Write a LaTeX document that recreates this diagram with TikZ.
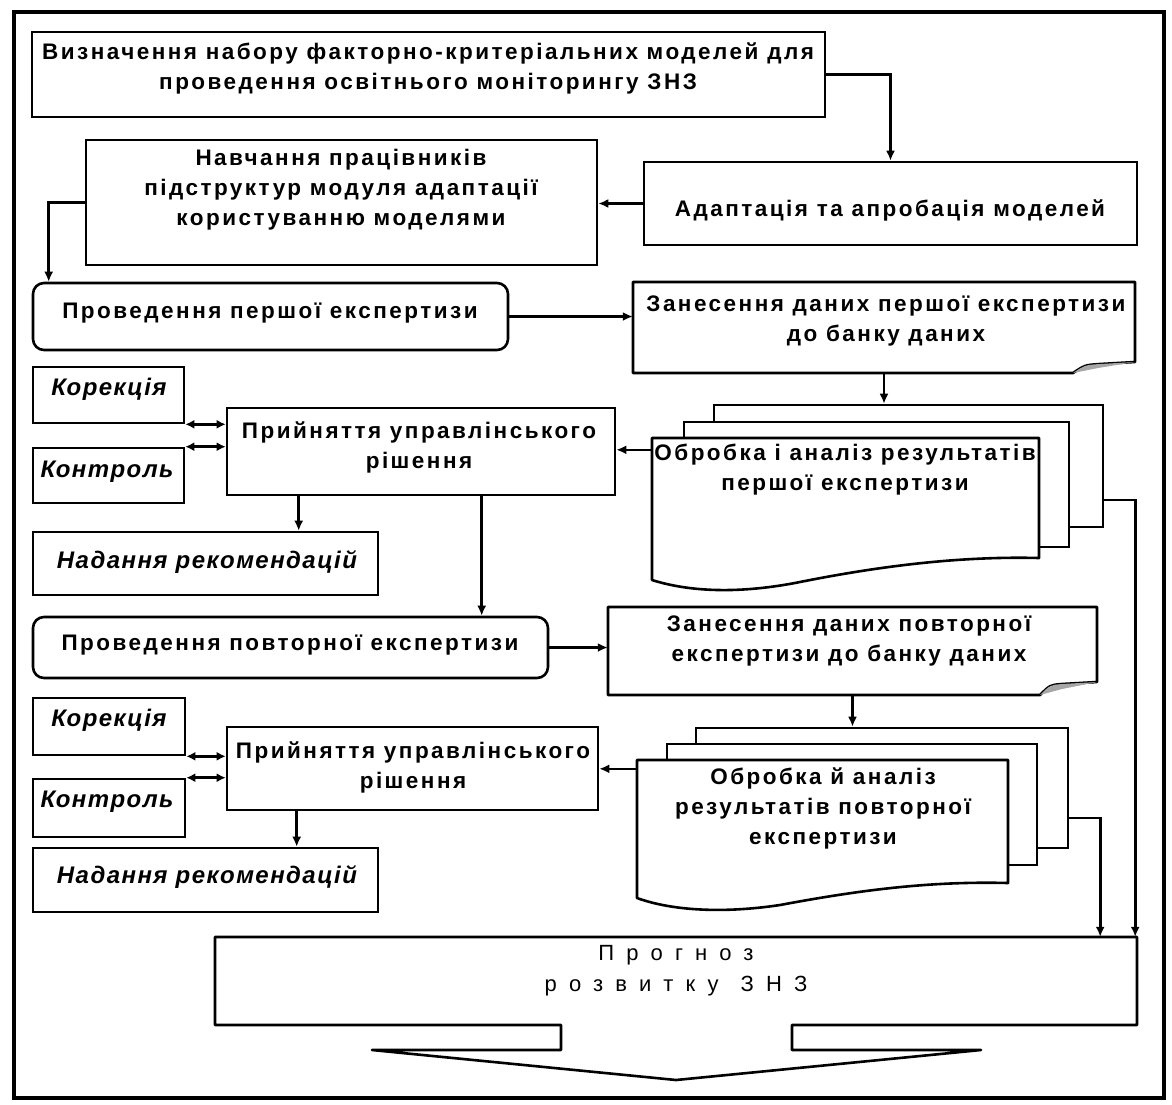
\documentclass[tikz,border=0pt]{standalone}
\usepackage{fontspec}
\setmainfont{Liberation Sans}
\newfontfamily\schemefont[LetterSpace=11]{Liberation Sans}
\newfontfamily\markfont[LetterSpace=6]{Liberation Sans}
\newfontfamily\progfont[LetterSpace=55]{Liberation Sans}
\usetikzlibrary{shapes,arrows.meta,positioning,calc}

\begin{document}
\begin{tikzpicture}[x=1pt,y=-1pt,
  box/.style={draw,line width=2.6pt,fill=white,inner sep=0pt},
  rbox/.style={box,rounded corners=11pt},
  anchorbox/.style={inner sep=0pt},
  doc/.style={draw,line width=2.6pt,fill=white,line join=round},
  txt/.style={font=\schemefont\bfseries\fontsize{22.5}{30}\selectfont,align=center,inner sep=0pt},
  itxt/.style={font=\markfont\bfseries\itshape\fontsize{24}{28}\selectfont,inner sep=0pt},
  progtxt/.style={font=\progfont\fontsize{22}{31}\selectfont,align=center,inner sep=0pt},
  link/.style={line width=2.6pt,-{Latex[length=10pt,width=9pt]}},
  dlink/.style={line width=2.6pt,{Latex[length=9pt,width=9pt]}-{Latex[length=9pt,width=9pt]}}
]
\useasboundingbox (0,0) rectangle (1172,1104);

% outer frame
\draw[line width=4.5pt] (14,12) rectangle (1164,1098);

% upper part
\node[box,minimum width=793,minimum height=85] (vyz) at (428.5,74.5) {};
\node[box,minimum width=511,minimum height=125] (navch) at (341.5,202.5) {};
\node[box,minimum width=493,minimum height=83] (adapt) at (890.5,203.5) {};
\node[rbox,minimum width=475,minimum height=67] (prov1) at (270.5,316.5) {};

% first expertise: data entry
\node[anchorbox,minimum width=502,minimum height=91] (zan1) at (884,327.5) {};
\draw[doc] (633,282) -- (1135,282) -- (1135,362) -- (1100,364) .. controls (1085,365) .. (1073,373) -- (633,373) -- cycle;
\fill[gray!70] (1073,373) .. controls (1085,365) .. (1100,364) -- (1135,362) -- (1098,368) -- cycle;

% first expertise: processing (stack)
\node[box,minimum width=389,minimum height=122] (back1) at (908.5,466) {};
\node[box,minimum width=385,minimum height=125] (mid1) at (876.5,484.5) {};
\node[anchorbox,minimum width=387,minimum height=142] (front1) at (845.5,509) {};
\draw[doc] (652,438) -- (1039,438) -- (1039,558) .. controls (960,556) and (880,566) .. (800,582) .. controls (740,594) and (690,592) .. (652,580) -- cycle;

\node[box,minimum width=151,minimum height=56] (kor1) at (108.5,395) {};
\node[box,minimum width=151,minimum height=55] (kon1) at (108.5,475.5) {};
\node[box,minimum width=388,minimum height=87] (prij1) at (421,451.5) {};
\node[box,minimum width=345,minimum height=63] (nad1) at (205.5,563.5) {};

% second expertise
\node[rbox,minimum width=515,minimum height=61] (prov2) at (290.5,647.5) {};
\node[anchorbox,minimum width=489,minimum height=88] (zan2) at (852.5,651) {};
\draw[doc] (608,607) -- (1097,607) -- (1097,682) -- (1062,684) .. controls (1050,685) .. (1040,695) -- (608,695) -- cycle;
\fill[gray!70] (1040,695) .. controls (1050,685) .. (1062,684) -- (1097,682) -- (1062,689) -- cycle;

\node[box,minimum width=372,minimum height=120] (back2) at (882,788) {};
\node[box,minimum width=370,minimum height=121] (mid2) at (852,804.5) {};
\node[anchorbox,minimum width=371,minimum height=144] (front2) at (822.5,832) {};
\draw[doc] (637,760) -- (1008,760) -- (1008,883) .. controls (930,881) and (860,890) .. (780,905) .. controls (720,914) and (670,910) .. (637,898) -- cycle;

\node[box,minimum width=152,minimum height=57] (kor2) at (109,726.5) {};
\node[box,minimum width=152,minimum height=58] (kon2) at (109,808) {};
\node[box,minimum width=371,minimum height=83] (prij2) at (412.5,768.5) {};
\node[box,minimum width=345,minimum height=64] (nad2) at (205.5,880) {};

% forecast with outgoing arrow
\node[anchorbox,minimum width=922,minimum height=88] (prog) at (676,981) {};
\draw[doc] (215,937) -- (1137,937) -- (1137,1025) -- (792,1025) -- (792,1050) -- (981,1050) -- (676,1080) -- (372,1050) -- (561,1050) -- (561,1025) -- (215,1025) -- cycle;

% Labels
\node[txt] (vyzT) at (428,68) {Визначення набору факторно-критеріальних моделей для\\проведення освітнього моніторингу ЗНЗ};
\node[txt] (navchT) at (341,190) {Навчання працівників\\підструктур модуля адаптації\\користуванню моделями};
\node[txt] (adaptT) at (890,210) {Адаптація та апробація моделей};
\node[txt] (prov1T) at (270,313) {Проведення першої експертизи};
\node[txt] (zan1T) at (886,321) {Занесення даних першої експертизи\\до банку даних};
\node[itxt] (kor1T) at (109,389) {Корекція};
\node[itxt] (kon1T) at (107,472) {Контроль};
\node[txt] (prij1T) at (419,447) {Прийняття управлінського\\рішення};
\node[itxt] (nad1T) at (207,562) {Надання рекомендацій};
\node[txt] (front1T) at (845,470) {Обробка і аналіз результатів\\першої експертизи};
\node[txt] (prov2T) at (290,645) {Проведення повторної експертизи};
\node[txt] (zan2T) at (849,641) {Занесення даних повторної\\експертизи до банку даних};
\node[itxt] (kor2T) at (109,720) {Корекція};
\node[itxt] (kon2T) at (107,802) {Контроль};
\node[txt] (prij2T) at (413,767) {Прийняття управлінського\\рішення};
\node[itxt] (nad2T) at (207,877) {Надання рекомендацій};
\node[txt] (front2T) at (823,808) {Обробка й аналіз\\результатів повторної\\експертизи};
\node[progtxt] (progT) at (676,971) {Прогноз\\розвитку\quad ЗНЗ};

% Connectors
\draw[link] (vyz.east) -| (adapt.north);
\draw[link] (adapt.west) -- (adapt.west -| navch.east);
\draw[link] (navch.west) -| ([xshift=17pt]prov1.north west);
\draw[link] (prov1.east) -- (prov1.east -| zan1.west);
\draw[link] (zan1.south) -- (zan1.south |- back1.north);
\draw[link] ([yshift=-12pt]front1.north west) -- ([yshift=-12pt]front1.north west -| prij1.east);
\draw[dlink] (kor1.south east) -- (kor1.south east -| prij1.west);
\draw[dlink] (kon1.north east) -- (kon1.north east -| prij1.west);
\draw[link] ([xshift=73pt]prij1.south west) -- ([xshift=73pt]prij1.south west |- nad1.north);
\draw[link] ([xshift=256pt]prij1.south west) -- ([xshift=256pt]prij1.south west |- prov2.north);
\draw[link] (prov2.east) -- (prov2.east -| zan2.west);
\draw[link] (zan2.south) -- (zan2.south |- back2.north);
\draw[link] ([yshift=-9pt]front2.north west) -- ([yshift=-9pt]front2.north west -| prij2.east);
\draw[dlink] (kor2.south east) -- (kor2.south east -| prij2.west);
\draw[dlink] (kon2.north east) -- (kon2.north east -| prij2.west);
\draw[link] ([xshift=71pt]prij2.south west) -- ([xshift=71pt]prij2.south west |- nad2.north);
\draw[link] ([yshift=-34pt]back1.east) -| ([xshift=-2pt]prog.north east);
\draw[link] ([yshift=-30pt]back2.east) -| ([xshift=-37pt]prog.north east);

\end{tikzpicture}
\end{document}
